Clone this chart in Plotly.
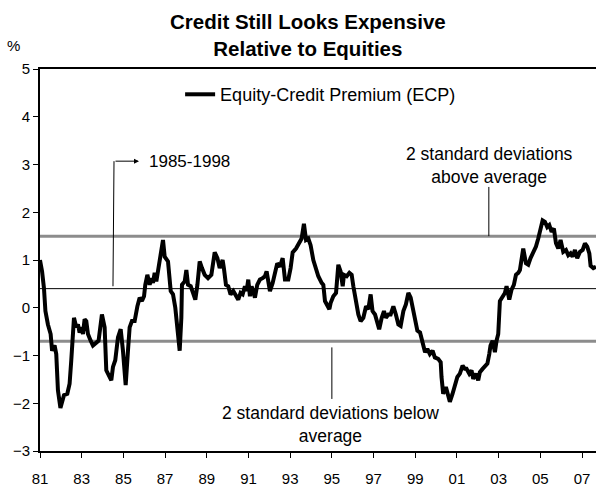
import plotly.graph_objects as go

# ---- data ----
years = [
    1981.00, 1981.10, 1981.19, 1981.26, 1981.38, 1981.51, 1981.58, 1981.70, 1981.78, 1981.86,
    1981.98, 1982.06, 1982.15, 1982.31, 1982.42, 1982.50, 1982.58, 1982.63, 1982.74, 1982.82,
    1982.90, 1982.98, 1983.06, 1983.14, 1983.22, 1983.30, 1983.43, 1983.54, 1983.70, 1983.81,
    1983.97, 1984.10, 1984.18, 1984.29, 1984.42, 1984.50, 1984.61, 1984.74, 1984.87, 1984.98,
    1985.11, 1985.22, 1985.30, 1985.41, 1985.54, 1985.67, 1985.78, 1985.89, 1985.99, 1986.05,
    1986.15, 1986.26, 1986.34, 1986.42, 1986.50, 1986.58, 1986.66, 1986.79, 1986.90, 1986.98,
    1987.14, 1987.27, 1987.38, 1987.49, 1987.59, 1987.70, 1987.78, 1987.81, 1987.94, 1988.02,
    1988.10, 1988.23, 1988.34, 1988.45, 1988.55, 1988.66, 1988.77, 1988.90, 1989.06, 1989.22,
    1989.38, 1989.51, 1989.62, 1989.73,
    1989.76, 1989.82, 1989.92, 1990.03, 1990.14, 1990.27, 1990.40, 1990.51, 1990.62, 1990.72,
    1990.83, 1990.91, 1990.99, 1991.07, 1991.15, 1991.23, 1991.31, 1991.42, 1991.55, 1991.68,
    1991.79, 1991.87, 1991.95, 1992.03, 1992.16, 1992.27, 1992.38, 1992.51, 1992.64, 1992.75,
    1992.91, 1993.02, 1993.12, 1993.28, 1993.44, 1993.55, 1993.66, 1993.76, 1993.87, 1993.98,
    1994.11, 1994.24, 1994.35, 1994.51, 1994.59, 1994.67, 1994.78, 1994.88, 1994.94, 1995.07,
    1995.20, 1995.31, 1995.42, 1995.52, 1995.58, 1995.71, 1995.84, 1995.95, 1996.03, 1996.16,
    1996.27, 1996.38, 1996.51, 1996.64, 1996.75, 1996.86, 1996.95, 1997.07, 1997.18, 1997.27,
    1997.39, 1997.50, 1997.59, 1997.71, 1997.82, 1997.95, 1998.07, 1998.19, 1998.30, 1998.43,
    1998.55, 1998.67,
    1998.78, 1998.87, 1998.99, 1999.10, 1999.23, 1999.31, 1999.39, 1999.47, 1999.58, 1999.70,
    1999.83, 1999.94, 2000.10, 2000.22, 2000.26, 2000.34, 2000.47, 2000.58, 2000.66, 2000.79,
    2000.90, 2001.02, 2001.14, 2001.27, 2001.38, 2001.46, 2001.59, 2001.70, 2001.78, 2001.91,
    2002.02, 2002.10, 2002.23, 2002.34, 2002.46, 2002.55, 2002.61, 2002.71, 2002.82, 2002.90,
    2002.98, 2003.06, 2003.19, 2003.30, 2003.38, 2003.51, 2003.62, 2003.73, 2003.83, 2003.94,
    2004.02, 2004.10, 2004.18, 2004.31, 2004.42, 2004.53, 2004.66, 2004.79, 2004.90, 2005.01,
    2005.11, 2005.22, 2005.33, 2005.43, 2005.54, 2005.65, 2005.75, 2005.86, 2005.97, 2006.10,
    2006.23, 2006.34, 2006.45, 2006.55, 2006.66, 2006.77, 2006.90, 2007.03, 2007.14, 2007.25,
    2007.35, 2007.41, 2007.54, 2007.67,
]

ecp = [
    1.00, 0.76, 0.41, -0.07, -0.35, -0.55, -0.90, -0.79, -0.97, -1.73,
    -2.10, -1.93, -1.83, -1.80, -1.59, -1.10, -0.55, -0.21, -0.41, -0.35,
    -0.52, -0.41, -0.55, -0.24, -0.28, -0.55, -0.69, -0.79, -0.73, -0.69,
    -0.14, -0.41, -1.31, -1.42, -1.52, -1.24, -1.10, -0.62, -0.45, -0.90,
    -1.62, -0.90, -0.41, -0.28, -0.28, 0.03, 0.21, 0.14, 0.24, 0.48,
    0.69, 0.48, 0.62, 0.52, 0.73, 0.55, 0.79, 1.04, 1.42, 1.07,
    0.97, 0.35, 0.28, 0.00, -0.35, -0.90, -0.21, 0.48, 0.55, 0.79,
    0.48, 0.45, 0.31, 0.17, 0.48, 0.97, 0.83, 0.69, 0.62, 0.69,
    1.16, 1.04, 0.83, 0.93,
    1.00, 0.83, 0.48, 0.45, 0.28, 0.35, 0.24, 0.17, 0.31, 0.28,
    0.45, 0.35, 0.59, 0.24, 0.45, 0.35, 0.21, 0.48, 0.59, 0.62,
    0.66, 0.76, 0.55, 0.35, 0.52, 0.73, 0.93, 0.86, 1.04, 0.59,
    0.59, 0.83, 1.16, 1.24, 1.35, 1.45, 1.76, 1.42, 1.45, 1.31,
    1.00, 0.79, 0.66, 0.52, 0.48, 0.14, 0.03, -0.03, 0.10, 0.24,
    0.31, 0.90, 0.76, 0.45, 0.69, 0.66, 0.73, 0.69, 0.45, 0.14,
    -0.14, -0.28, -0.21, 0.03, -0.03, 0.28, -0.07, -0.14, -0.35, -0.45,
    -0.21, -0.07, -0.21, -0.14, -0.14, 0.03, -0.14, -0.35, -0.38, -0.07,
    0.07, 0.31,
    0.21, 0.03, -0.21, -0.48, -0.52, -0.69, -0.76, -0.93, -0.86, -0.97,
    -0.90, -1.04, -1.07, -1.14, -1.45, -1.80, -1.66, -1.87, -1.97, -1.80,
    -1.59, -1.45, -1.38, -1.21, -1.28, -1.28, -1.38, -1.31, -1.49, -1.38,
    -1.52, -1.35, -1.28, -1.24, -1.17, -0.97, -0.79, -0.69, -0.93, -0.69,
    -0.55, 0.14, 0.24, 0.31, 0.45, 0.17, 0.38, 0.48, 0.69, 0.73,
    0.79, 0.97, 1.24, 0.93, 0.90, 1.04, 1.14, 1.28, 1.45, 1.66,
    1.83, 1.80, 1.69, 1.73, 1.59, 1.66, 1.35, 1.24, 1.42, 1.17,
    1.21, 1.10, 1.14, 1.07, 1.21, 1.04, 1.17, 1.21, 1.35, 1.28,
    1.14, 0.88, 0.83, 0.86,
]

ecp_average = 0.40       # 1985-1998 average
upper_band = 1.50        # 2 standard deviations above average
lower_band = -0.70       # 2 standard deviations below average

tick_years = list(range(1981, 2008, 2))
tick_labels = ["81", "83", "85", "87", "89", "91", "93", "95", "97", "99",
               "01", "03", "05", "07"]
x_range = [1981.0, 2007.67]
y_range = [-3, 5]

FONT = "Liberation Sans, Arial, sans-serif"

fig = go.Figure()
fig.add_trace(go.Scatter(
    x=years, y=ecp, mode="lines",
    name="Equity-Credit Premium (ECP)",
    line=dict(color="black", width=4),
))

# reference lines
for yv, col, w in [(upper_band, "#8c8c8c", 3), (lower_band, "#8c8c8c", 3),
                   (ecp_average, "black", 1)]:
    fig.add_shape(type="line", xref="paper", x0=0, x1=1, yref="y", y0=yv, y1=yv,
                  line=dict(color=col, width=w), layer="below")

# annotation connectors
fig.add_shape(type="line", xref="x", yref="y", x0=2002.53, x1=2002.53, y0=2.53, y1=upper_band,
              line=dict(color="black", width=1))
fig.add_shape(type="line", xref="x", yref="y", x0=1995.0, x1=1995.0, y0=-0.83, y1=-1.91,
              line=dict(color="black", width=1))
fig.add_shape(type="line", xref="x", yref="y", x0=1984.55, x1=1984.50, y0=3.07, y1=ecp_average + 0.05,
              line=dict(color="black", width=1))

annotations = [
    dict(x=0.482, y=1.088, xref="paper", yref="paper", showarrow=False,
         xanchor="center", yanchor="middle", align="center",
         text="<b>Credit Still Looks Expensive<br>Relative to Equities</b>",
         font=dict(size=20.5, family=FONT, color="black")),
    dict(x=2002.58, y=2.97, xref="x", yref="y", showarrow=False,
         text="2 standard deviations<br>above average", align="center",
         font=dict(size=17.5, family=FONT, color="black")),
    dict(x=1994.93, y=-2.44, xref="x", yref="y", showarrow=False,
         text="2 standard deviations below<br>average", align="center",
         font=dict(size=17.5, family=FONT, color="black")),
    dict(x=1986.13, y=3.07, xref="x", yref="y", showarrow=False, xanchor="left",
         text="1985-1998", font=dict(size=17, family=FONT, color="black")),
    dict(x=1985.75, y=3.07, xref="x", yref="y", ax=1984.55, ay=3.07,
         axref="x", ayref="y", showarrow=True, arrowhead=2, arrowsize=1,
         arrowwidth=1, arrowcolor="black", text=""),
    dict(x=-0.047, y=1.062, xref="paper", yref="paper", showarrow=False,
         xanchor="center", yanchor="middle",
         text="%", font=dict(size=15, family=FONT, color="black")),
]

fig.update_layout(
    width=596, height=487,
    margin=dict(l=40, r=0, t=69, b=32),
    paper_bgcolor="white", plot_bgcolor="white",
    font=dict(family=FONT, color="black", size=15),
    showlegend=True,
    legend=dict(x=0.252, xanchor="left", y=0.933, yanchor="middle",
                bgcolor="rgba(0,0,0,0)", font=dict(size=18, family=FONT)),
    annotations=annotations,
    xaxis=dict(range=x_range, tickmode="array", tickvals=tick_years, ticktext=tick_labels,
               ticks="outside", ticklen=5, tickwidth=1, tickcolor="black",
               showline=True, linecolor="black", linewidth=1.5, mirror=True,
               showgrid=False, zeroline=False, ticklabelstandoff=8,
               tickfont=dict(size=15, family=FONT)),
    yaxis=dict(range=y_range, dtick=1, ticks="outside", ticklen=5, tickwidth=1,
               tickcolor="black", showline=True, linecolor="black", linewidth=2,
               showgrid=False, zeroline=False, tickfont=dict(size=15, family=FONT)),
)

# remove the default 8px page margin so the 596x487 figure fills the window exactly
fig.write_html("out.html",
               config={"displayModeBar": False},
               post_script="document.body.style.margin='0';document.body.style.overflow='hidden';")
